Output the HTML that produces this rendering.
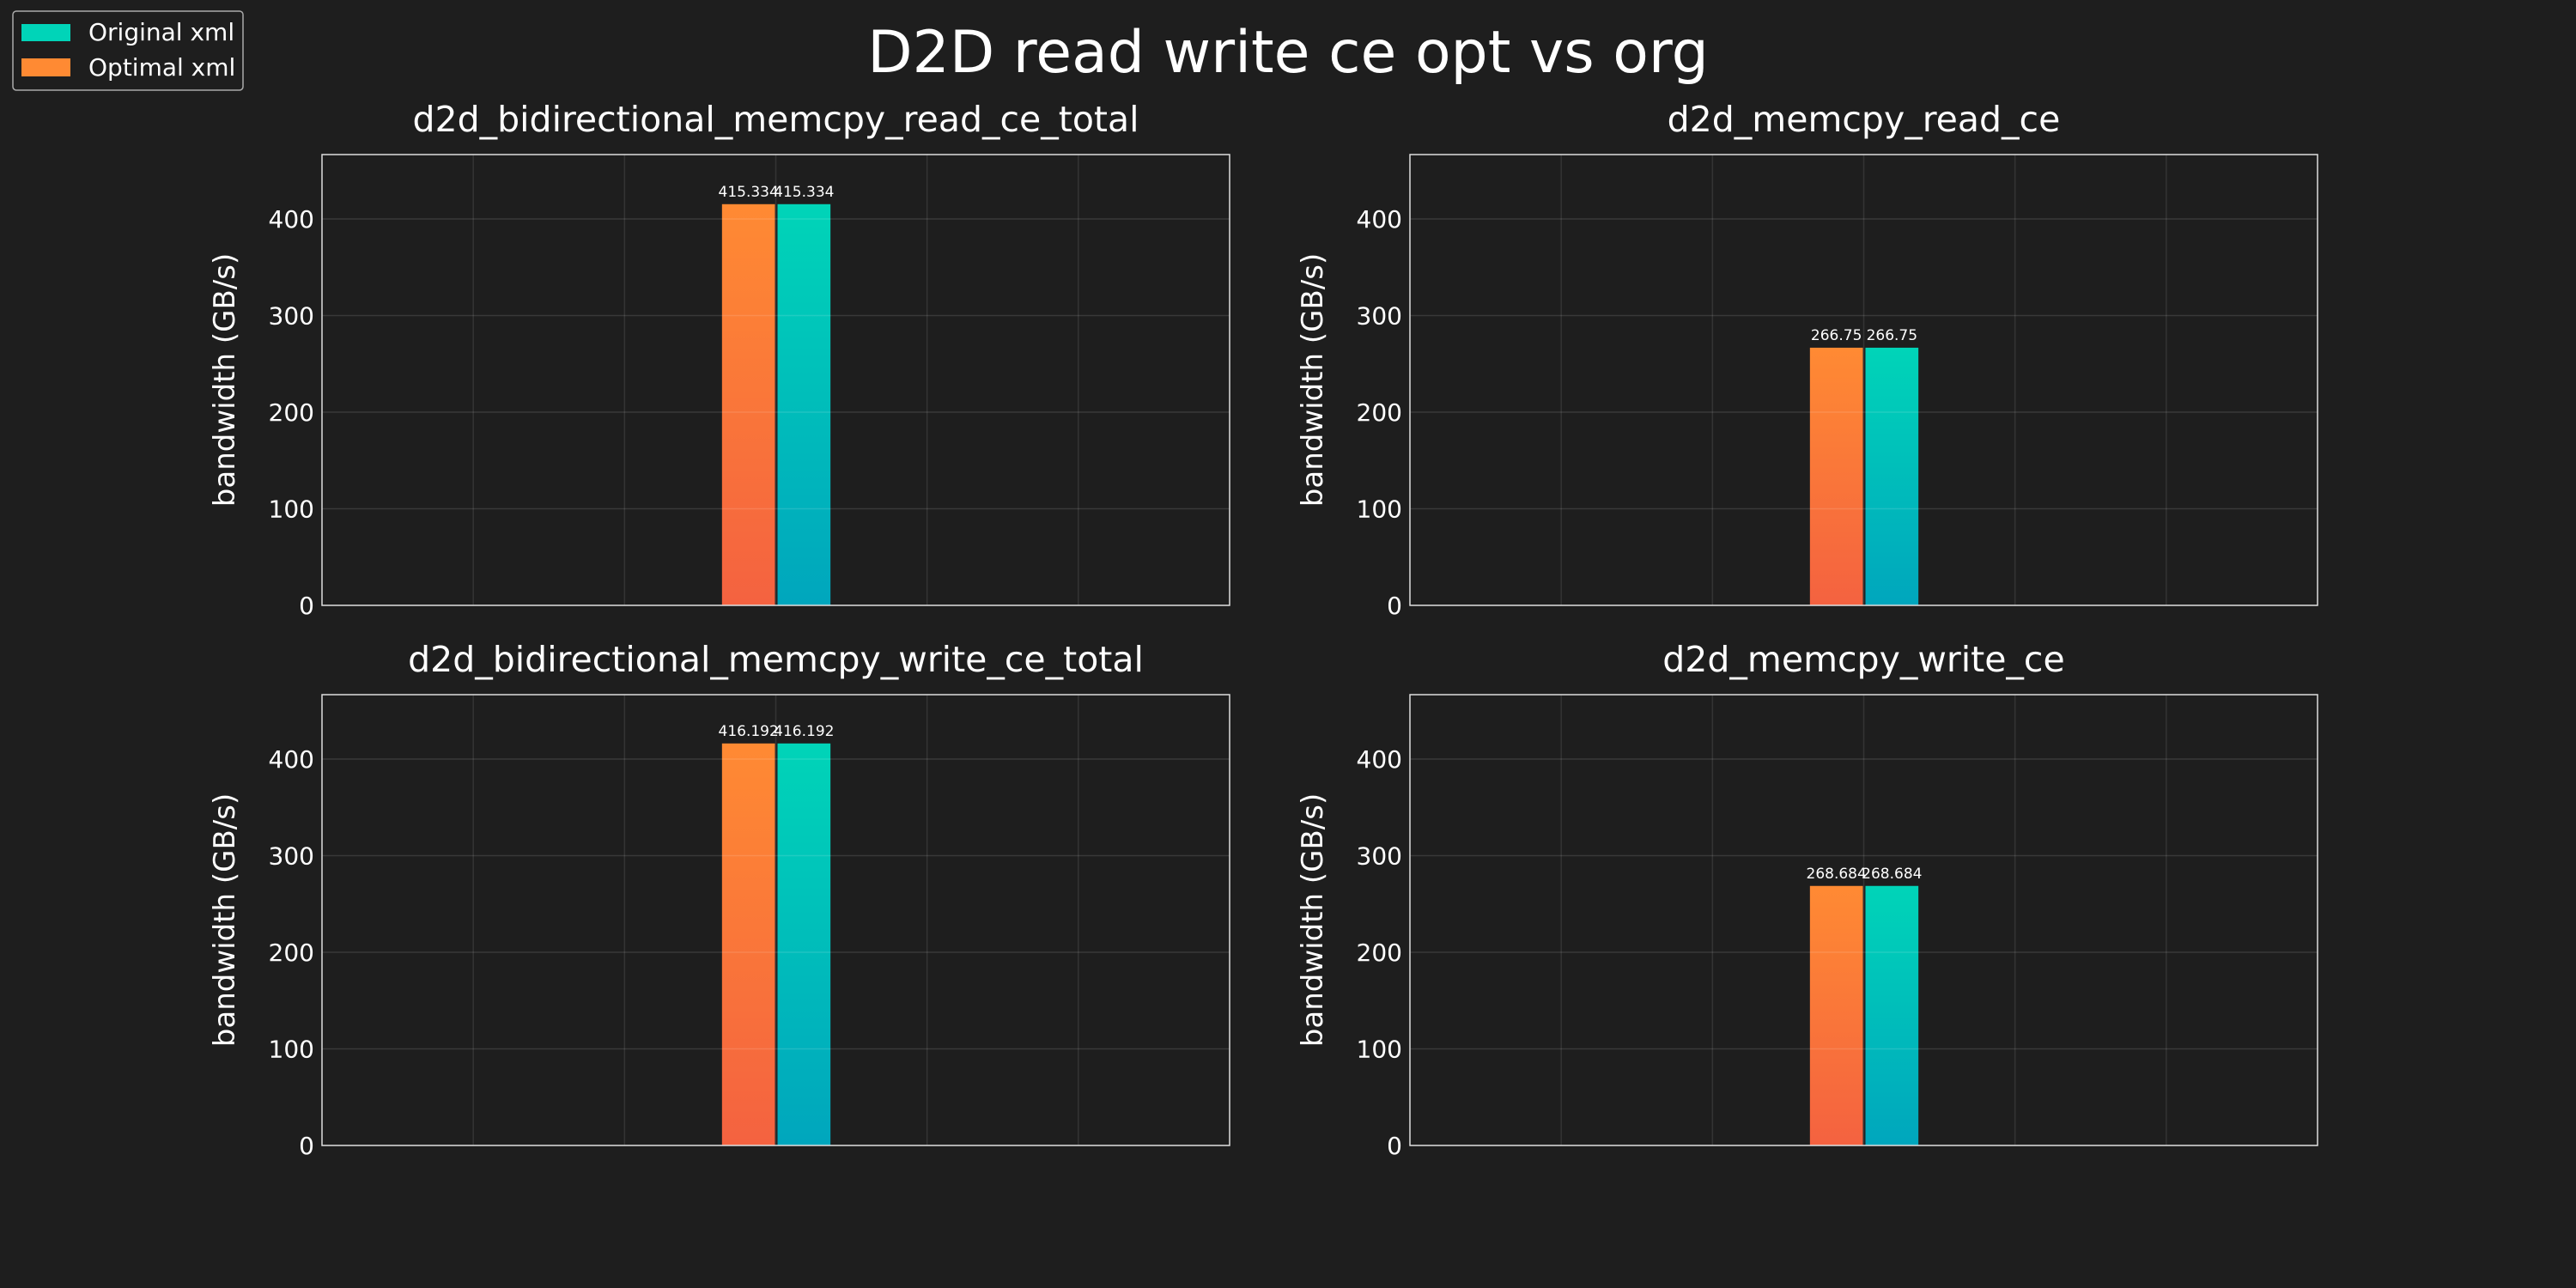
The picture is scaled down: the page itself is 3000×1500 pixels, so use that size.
<!DOCTYPE html>
<html><head><meta charset="utf-8"><style>
html,body{margin:0;padding:0;background:#1e1e1e;}
svg{display:block;font-family:"DejaVu Sans","Liberation Sans",sans-serif;}
</style></head><body>
<svg id="chart" width="3000" height="1500" viewBox="0 0 3000 1500" xmlns="http://www.w3.org/2000/svg">
<defs>
<linearGradient id="gOrange" x1="0" y1="0" x2="0" y2="1"><stop offset="0" stop-color="#ff8a33"/><stop offset="1" stop-color="#f46240"/></linearGradient>
<linearGradient id="gTeal" x1="0" y1="0" x2="0" y2="1"><stop offset="0" stop-color="#00d4b8"/><stop offset="1" stop-color="#00a6bd"/></linearGradient>
</defs>
<rect width="3000" height="1500" fill="#1e1e1e"/>
<text x="1500" y="84" text-anchor="middle" fill="#ffffff" font-size="68">D2D read write ce opt vs org</text>
<g>
<rect x="15" y="13" width="268" height="92" rx="4" fill="#1e1e1e" stroke="#aaaaaa" stroke-width="1.5"/>
<rect x="25" y="28" width="57" height="20" fill="#00d4b8"/>
<text x="103" y="47" fill="#ffffff" font-size="28">Original xml</text>
<rect x="25" y="68" width="57" height="21" fill="#ff8a33"/>
<text x="103" y="88" fill="#ffffff" font-size="28">Optimal xml</text>
</g>
<g id="panels"></g>
</svg>
<script>
const panelTitles = ["d2d_bidirectional_memcpy_read_ce_total","d2d_memcpy_read_ce","d2d_bidirectional_memcpy_write_ce_total","d2d_memcpy_write_ce"];
const optimalValues = [415.334, 266.75, 416.192, 268.684];
const originalValues = [415.334, 266.75, 416.192, 268.684];
const yTicks = [0, 100, 200, 300, 400];

const NS = "http://www.w3.org/2000/svg";
const root = document.getElementById("panels");
function mk(tag, attrs, parent){const e=document.createElementNS(NS,tag);for(const k in attrs)e.setAttribute(k,attrs[k]);parent.appendChild(e);return e;}
const layout = [[375,180],[1642,180],[375,809],[1642,809]];
const W = 1057, H = 525, YMAX = 466.7, XMIN=-3, XMAX=3, BW=0.35;
panelTitles.forEach((title,i)=>{
  const [ox,oy] = layout[i];
  const g = mk("g",{},root);
  
  
  const yS = v => oy + H - v/YMAX*H;
  const xS = v => ox + (v-XMIN)/(XMAX-XMIN)*W;
  const t = mk("text",{x:ox+W/2,y:oy-27,"text-anchor":"middle",fill:"#fff","font-size":"41"},g);
  t.textContent = title;
  
  
  const v1 = optimalValues[i], v2 = originalValues[i];
  const b1 = mk("rect",{x:xS(-BW)-1,y:yS(v1),width:xS(0)-xS(-BW),height:yS(0)-yS(v1),fill:"url(#gOrange)"},g);
  
  
  const b2 = mk("rect",{x:xS(0)+2,y:yS(v2),width:xS(BW)-xS(0),height:yS(0)-yS(v2),fill:"url(#gTeal)"},g);
  
  
  for(let k=XMIN+1;k<XMAX;k++){
    const l=mk("line",{x1:xS(k),x2:xS(k),y1:oy,y2:oy+H,stroke:"#ffffff","stroke-opacity":"0.1","stroke-width":"1.5"},g);
    
    
  }
  yTicks.forEach(v=>{
    const l=mk("line",{x1:ox,x2:ox+W,y1:yS(v),y2:yS(v),stroke:"#ffffff","stroke-opacity":"0.12","stroke-width":"1.5"},g);
    
    
    const tl=mk("text",{x:ox-9,y:yS(v)+10,"text-anchor":"end",fill:"#fff","font-size":"28"},g);
    tl.textContent=String(v);
    
    
  });
  [[v1,xS(-BW/2)-1],[v2,xS(BW/2)+2]].forEach(([v,cx])=>{
    const vl=mk("text",{x:cx,y:yS(v)-9,"text-anchor":"middle",fill:"#fff","font-size":"17"},g);
    vl.textContent=String(v);
    
    
  });
  const fr=mk("rect",{x:ox,y:oy,width:W,height:H,fill:"none",stroke:"#dddddd","stroke-width":"1.5"},g);
  
  
  const yl=mk("text",{x:0,y:0,"text-anchor":"middle",fill:"#fff","font-size":"34",transform:`translate(${ox-102},${oy+H/2}) rotate(-90)`},g);
  yl.textContent="bandwidth (GB/s)";
  
  
});
</script>
</body></html>
